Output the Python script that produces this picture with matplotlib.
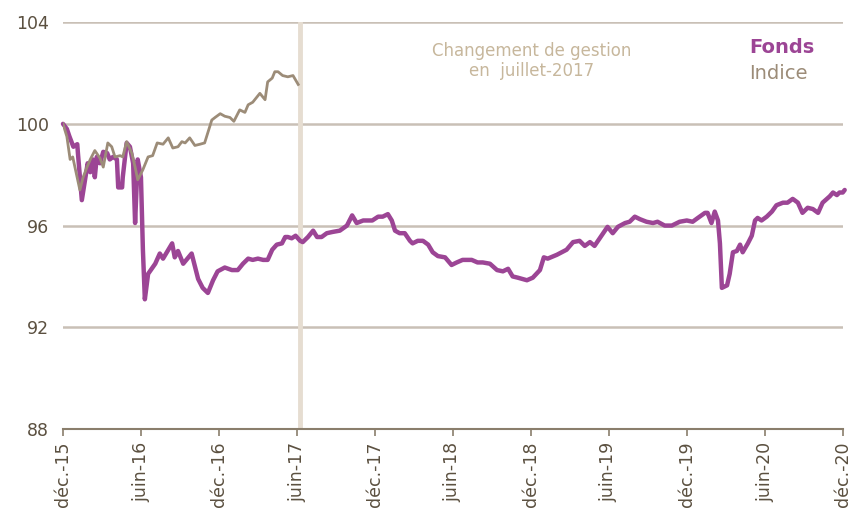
import numpy as np
import pandas as pd
import matplotlib
matplotlib.use("Agg")
import matplotlib.pyplot as plt
import matplotlib.dates as mdates

# months elapsed since 1 Dec 2015
fonds_months = [0.0, 0.3, 0.5, 0.8, 1.1, 1.15, 1.45, 1.7, 1.9, 2.1, 2.3, 2.45, 2.6, 2.85, 3.1, 3.4,
                3.6, 3.85, 4.15, 4.25, 4.55, 4.6, 4.9, 5.15, 5.4, 5.55, 5.75, 6.0, 6.15, 6.3, 6.55,
                7.1, 7.45, 7.7, 8.4, 8.6, 8.85, 9.25, 9.9, 10.15, 10.4, 10.75, 11.15, 11.55, 11.9,
                12.45, 13.0, 13.45, 13.85, 14.25, 14.6, 15.0, 15.4, 15.75, 16.1, 16.45, 16.85, 17.1,
                17.3, 17.6, 17.9, 18.25, 18.45, 18.85, 19.25, 19.55, 19.9, 20.3, 20.75, 21.3, 21.85,
                22.25, 22.6, 23.1, 23.8, 24.25, 24.6, 25.0, 25.3, 25.55, 25.9, 26.3, 26.7, 26.9,
                27.3, 27.7, 28.1, 28.45, 28.85, 29.4, 29.9, 30.3, 30.75, 31.45, 31.9, 32.3, 32.85,
                33.4, 33.85, 34.25, 34.6, 35.0, 35.7, 36.15, 36.7, 37.0, 37.3, 38.0, 38.75, 39.25,
                39.75, 40.15, 40.55, 40.9, 41.3, 41.7, 41.9, 42.3, 42.7, 43.25, 43.6, 44.0, 44.4,
                44.9, 45.4, 45.75, 46.3, 46.85, 47.45, 48.0, 48.45, 48.85, 49.4, 49.6, 49.9, 50.15,
                50.4, 50.55, 50.7, 51.1, 51.3, 51.55, 51.85, 52.1, 52.3, 52.7, 53.0, 53.25, 53.45,
                53.75, 54.15, 54.55, 54.9, 55.4, 55.75, 56.15, 56.55, 56.9, 57.3, 57.7, 58.1, 58.45,
                59.0, 59.25, 59.55, 59.75, 60.0, 60.15]
fonds = [100.0, 99.8, 99.5, 99.1, 99.2, 98.85, 97.0, 97.8, 98.45, 98.1, 98.6, 97.9, 98.7, 98.45,
         98.9, 98.85, 98.6, 98.7, 98.6, 97.5, 97.5, 97.9, 99.25, 99.1, 98.45, 96.1, 98.6, 97.9,
         95.05, 93.1, 94.1, 94.5, 94.9, 94.7, 95.3, 94.75, 95.0, 94.5, 94.9, 94.4, 93.9, 93.55,
         93.35, 93.85, 94.2, 94.35, 94.25, 94.25, 94.5, 94.7, 94.65, 94.7, 94.65, 94.65, 95.05,
         95.25, 95.3, 95.55, 95.55, 95.5, 95.6, 95.4, 95.35, 95.55, 95.8, 95.55, 95.55, 95.7,
         95.75, 95.8, 96.0, 96.4, 96.1, 96.2, 96.2, 96.35, 96.35, 96.45, 96.2, 95.8, 95.7, 95.7,
         95.4, 95.3, 95.4, 95.4, 95.25, 94.95, 94.8, 94.75, 94.45, 94.55, 94.65, 94.65, 94.55,
         94.55, 94.5, 94.25, 94.2, 94.3, 94.0, 93.95, 93.85, 93.95, 94.25, 94.75, 94.7, 94.85,
         95.05, 95.35, 95.4, 95.2, 95.35, 95.2, 95.5, 95.8, 95.95, 95.7, 95.95, 96.1, 96.15,
         96.35, 96.25, 96.15, 96.1, 96.15, 96.0, 96.0, 96.15, 96.2, 96.15, 96.3, 96.5, 96.5,
         96.1, 96.55, 96.2, 95.3, 93.55, 93.65, 94.1, 94.95, 95.0, 95.25, 94.95, 95.3, 95.6,
         96.2, 96.3, 96.2, 96.35, 96.55, 96.8, 96.9, 96.9, 97.05, 96.9, 96.5, 96.7, 96.65, 96.5,
         96.9, 97.15, 97.3, 97.2, 97.3, 97.3, 97.4]

indice_months = [0.0, 0.3, 0.55, 0.75, 1.3, 1.55, 1.85, 2.1, 2.45, 2.85, 3.1, 3.45, 3.75, 4.0,
                 4.4, 4.6, 4.9, 5.3, 5.55, 5.75, 6.15, 6.55, 6.9, 7.25, 7.7, 8.1, 8.45, 8.85,
                 9.15, 9.4, 9.75, 10.15, 10.55, 10.9, 11.45, 11.7, 12.1, 12.45, 12.85, 13.15,
                 13.6, 14.0, 14.25, 14.6, 15.15, 15.55, 15.75, 16.1, 16.3, 16.55, 16.9, 17.3,
                 17.7, 18.1]
indice = [100.0, 99.5, 98.6, 98.7, 97.4, 97.9, 98.3, 98.6, 98.95, 98.65, 98.3, 99.25, 99.1, 98.7,
          98.75, 98.7, 99.3, 98.85, 98.3, 97.8, 98.2, 98.7, 98.75, 99.25, 99.2, 99.45, 99.05,
          99.1, 99.3, 99.25, 99.45, 99.15, 99.2, 99.25, 100.15, 100.25, 100.4, 100.3, 100.25,
          100.1, 100.55, 100.45, 100.75, 100.85, 101.2, 100.95, 101.65, 101.8, 102.05, 102.05,
          101.9, 101.85, 101.9, 101.55]

change_month = 18.25
tick_labels = ["déc.-15", "juin-16", "déc.-16", "juin-17", "déc.-17", "juin-18",
               "déc.-18", "juin-19", "déc.-19", "juin-20", "déc.-20"]
tick_dates = pd.date_range("2015-12-01", "2020-12-01", freq="6MS")
y_ticks = [88, 92, 96, 100, 104]

start = pd.Timestamp("2015-12-01")


def to_dates(months):
    return start + pd.to_timedelta(np.array(months) * 30.44, unit="D")


purple = "#9c4595"
taupe = "#9c8c78"
grid_col = "#c9c0b6"
text_col = "#5b5040"

fig = plt.figure(figsize=(8.51, 5.15), dpi=100)
ax = fig.add_axes([0.074, 0.167, 0.9166, 0.790])

for y in y_ticks[1:]:
    ax.axhline(y, color=grid_col, lw=1.8, zorder=1)

ax.axvline(to_dates([change_month])[0], color="#e6ddd1", lw=3.5, zorder=2)

# fonds drawn first, indice sits on top of it like in the original
ax.plot(to_dates(fonds_months), fonds, color=purple, lw=3.2, zorder=3,
        solid_joinstyle="round", solid_capstyle="round", clip_on=False)
ax.plot(to_dates(indice_months), indice, color=taupe, lw=2.0, zorder=4,
        solid_joinstyle="round")

ax.set_ylim(88, 104)
ax.set_xlim(tick_dates[0], tick_dates[-1])
ax.set_yticks(y_ticks)
ax.set_yticklabels([str(v) for v in y_ticks], fontsize=12.5, color=text_col)
ax.set_xticks(tick_dates)
ax.set_xticklabels(tick_labels, rotation=90, fontsize=12.5, color=text_col)

for s in ["top", "right", "left"]:
    ax.spines[s].set_visible(False)
ax.spines["bottom"].set_color("#8a7e6c")
ax.spines["bottom"].set_linewidth(1.5)
ax.tick_params(axis="x", length=5, width=1.2, color="#8a7e6c", pad=4)
ax.tick_params(axis="y", length=0, pad=10)
ax.spines["bottom"].set_zorder(5)

fig.text(0.625, 0.882, "Changement de gestion\nen  juillet-2017", ha="center", va="center",
         fontsize=12, color="#c7b79c", linespacing=1.15)
fig.text(0.880, 0.908, "Fonds", fontsize=14, fontweight="bold", color=purple, va="center")
fig.text(0.880, 0.857, "Indice", fontsize=14, color=taupe, va="center")

fig.savefig("out.png", dpi=100)
